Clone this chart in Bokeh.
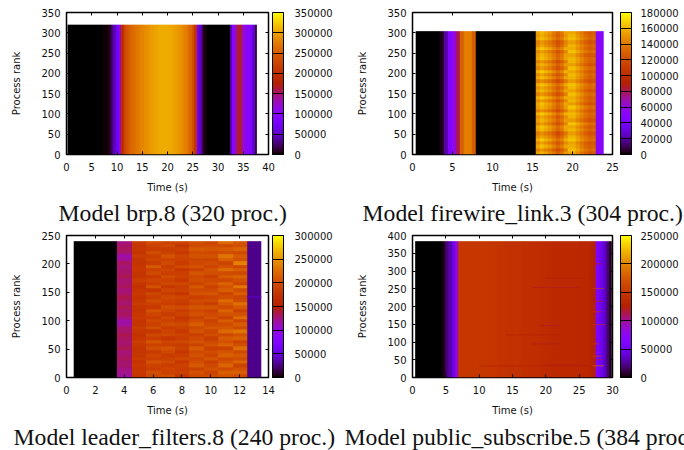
from bokeh.plotting import figure
from bokeh.layouts import column, row
from bokeh.models import (ColorBar, FixedTicker, LinearAxis, LinearColorMapper,
                          PrintfTickFormatter, Range1d, ColumnDataSource, Title)
from bokeh.embed import file_html
from bokeh.resources import INLINE
import numpy as np
import math

# --- values, in thousands ---
BRP_T0 = 0.2
BRP_COLS = [0,0,0,0,0,0,0,0,0,0,0.3,0.5,0.8,1,1.5,2.5,5,22,45,70,95,190,222,240,252,260,266,272,277,281,
            285,289,293,297,300,303,305,306,306,305,304,302,299,295,290,284,278,270,258,240,205,
            70,50,15,3,0.5,0,0,0,0,0,0,0,0.3,40,95,130,165,165,125,100,95,85,55,15]

FIRE_T0 = 0.4
FIRE_COLS = [0,0,0,0,0,0.3,3,20,45,55,80,130,142,142,128,0,0,0,0,0,0,0,0,0,0,0,0,0,0,0,
             150,158,152,146,138,128,136,150,158,158,150,142,134,128,130,52,52]
FIRE_SHIFT_A = [2,-8,6,-4,8,-2,-10,4,7,-6,3,-3,9,-9,2,6,-5,8,-7,4,-2,7,-10,5,-4,9,-6,2,-8,6,3,-5,8,-3,-7,5,0,4]
FIRE_SHIFT_B = [-3,5,0,-4,6,2,-5,3,-2,7,-6,1,4,-3,6,-5,2,-1,5,-4,3,6,-6,1,4,-2,5,-5,2,3,-4,6,-1,2,-5,4,1,-2]

LEADER_T0 = 0.5
LEADER_BLACK = [0,0,0]
LEADER_C4  = [118,122,125,130,128,133,130,126,134,130,128,132,135,130,128,118,116,126,132,130,
              134,128,131,135,129,127,133,130,128,134,131,129,126,132,120,117,128,132,130,126]
LEADER_C5  = [176,180,178,182,176,184,180,178,176,182,186,178,174,180,184,178,176,182,180,176,
              178,184,180,176,182,178,174,180,186,178,176,182,180,176,178,184,176,180,178,182]
LEADER_C6  = [196,200,186,192,204,188,194,182,200,190,208,186,196,180,202,190,198,184,194,206,
              182,190,200,186,196,178,204,188,194,182,198,190,210,184,194,188,200,186,192,198]
LEADER_C7  = [200,190,194,186,198,192,184,196,204,188,194,180,198,192,186,200,190,196,184,194,
              202,188,192,198,186,194,180,196,190,200,188,194,186,198,192,204,190,186,196,192]
LEADER_C8  = [178,188,184,192,180,196,188,178,190,184,198,186,192,182,190,196,184,178,192,186,
              198,182,188,194,178,190,186,196,182,192,188,180,198,184,190,194,182,188,178,192]
LEADER_C9  = [196,204,190,210,202,194,206,198,212,192,204,198,188,206,196,214,200,190,204,196,
              208,194,200,188,206,198,210,192,202,196,208,190,204,198,194,206,200,210,196,202]
LEADER_C10 = [198,192,204,196,188,208,194,200,190,206,198,186,202,194,208,196,190,204,198,192,
              206,186,200,194,208,198,190,204,196,188,202,206,194,200,192,206,196,208,200,194]
LEADER_C11 = [204,214,198,220,206,196,216,208,192,218,204,212,196,222,208,200,214,192,206,218,
              198,210,224,202,192,214,206,220,196,212,200,226,204,194,216,230,202,210,196,222]
LEADER_C12 = [196,214,204,192,220,200,210,196,226,202,192,216,206,230,198,212,194,224,204,190,
              210,228,200,196,214,202,232,194,206,220,198,214,196,238,204,212,198,218,202,208]
LEADER_C13 = [27] * 40

PUB_T0 = 0.4
PUB_COLS = [0,0,0,0,0,0,0.3,0.6,4,20,30,50,90,
            150,150,150,150,150,150,150,150,150,
            148,148,147,146,146,145,145,144,144,
            143,142,142,141,140,140,139,138,138,137,136,136,
            135,135,135,135,135,135,134,134,133,130,122,
            60,48,38,22,5]

STRIPE_LEADER = dict(rank=[142], t0=[12.5], t1=[13.5], v=[42])
STRIPE_PUB = dict(
    rank=[33, 33, 50, 60, 95, 95, 146, 150, 185, 215, 250, 253, 280, 320, 35, 120],
    t0=[27.0, 10.0, 27.0, 27.0, 18.0, 27.0, 19.0, 27.0, 27.0, 27.0, 27.0, 18.0, 20.0, 27.0, 20.0, 14.0],
    t1=[28.7, 27.0, 28.5, 28.3, 22.0, 28.0, 22.0, 29.0, 28.3, 28.5, 28.8, 25.0, 26.0, 28.3, 26.0, 22.0],
    v=[180, 125, 120, 160, 120, 150, 120, 150, 150, 125, 165, 120, 125, 130, 122, 126])

X_TICKS_A = [0, 5, 10, 15, 20, 25, 30, 35, 40]
X_TICKS_B = [0, 5, 10, 15, 20, 25]
X_TICKS_C = [0, 2, 4, 6, 8, 10, 12, 14]
X_TICKS_D = [0, 5, 10, 15, 20, 25, 30]
Y_TICKS_A = [0, 50, 100, 150, 200, 250, 300, 350]
Y_TICKS_C = [0, 50, 100, 150, 200, 250]
Y_TICKS_D = [0, 50, 100, 150, 200, 250, 300, 350, 400]
CB_TICKS_A = [0, 50000, 100000, 150000, 200000, 250000, 300000, 350000]
CB_TICKS_B = [0, 20000, 40000, 60000, 80000, 100000, 120000, 140000, 160000, 180000]
CB_TICKS_C = [0, 50000, 100000, 150000, 200000, 250000, 300000]
CB_TICKS_D = [0, 50000, 100000, 150000, 200000, 250000]

TITLES = ["Model brp.8 (320 proc.)", "Model firewire_link.3 (304 proc.)",
          "Model leader_filters.8 (240 proc.)", "Model public_subscribe.5 (384 proc.)"]

# gnuplot rgbformulae 7,5,15
def pal():
    out = []
    for i in range(256):
        x = i / 255
        r = math.sqrt(x); g = x ** 3; b = max(0.0, math.sin(2 * math.pi * x))
        out.append("#%02x%02x%02x" % (round(r * 255), round(g * 255), round(b * 255)))
    return out
PALETTE = pal()
FONT = "DejaVu Sans"


def panel(matrix, t0, dt, ranks, xticks, yticks, cbticks, title, title_off, title_standoff,
          fw, borders, cb_off, cb_standoff, stripes=None):
    left, right, top, bottom = borders
    xmax, ymax = xticks[-1], yticks[-1]
    p = figure(frame_width=fw, frame_height=142, min_border_left=left, min_border_right=right,
               min_border_top=top, min_border_bottom=bottom,
               x_range=Range1d(0, xmax), y_range=Range1d(0, ymax),
               output_backend="svg", toolbar_location=None, tools="",
               background_fill_color="white", border_fill_color="white")
    p.grid.visible = False
    mapper = LinearColorMapper(palette=PALETTE, low=0, high=cbticks[-1])
    arr = np.array(matrix, dtype=float) * 1000.0
    p.image(image=[arr], x=t0, y=0, dw=arr.shape[1] * dt, dh=ranks, color_mapper=mapper)
    if stripes:
        src = ColumnDataSource(dict(
            left=stripes["t0"], right=stripes["t1"],
            bottom=[r - 1 for r in stripes["rank"]], top=[r + 1 for r in stripes["rank"]],
            v=[x * 1000 for x in stripes["v"]]))
        p.quad(left="left", right="right", bottom="bottom", top="top", source=src,
               fill_color={"field": "v", "transform": mapper}, line_color=None)

    def style(ax, ticks, labelled):
        ax.ticker = FixedTicker(ticks=ticks)
        ax.axis_line_color = None
        ax.major_tick_in = 3
        ax.major_tick_out = 0
        ax.minor_tick_line_color = None
        ax.major_tick_line_color = "black"
        ax.major_label_text_font = FONT
        ax.major_label_text_font_size = "10px"
        ax.major_label_text_color = "#111111"
        ax.axis_label_text_font = FONT
        ax.axis_label_text_font_size = "10px"
        ax.axis_label_text_font_style = "normal"
        ax.axis_label_text_color = "#111111"
        if not labelled:
            ax.major_label_overrides = {t: "" for t in ticks}
            ax.major_label_standoff = 0

    style(p.xaxis[0], xticks, True)
    style(p.yaxis[0], yticks, True)
    p.xaxis[0].axis_label = "Time (s)"
    p.yaxis[0].axis_label = "Process rank"
    p.xaxis[0].major_label_standoff = 8
    p.yaxis[0].major_label_standoff = 6
    p.xaxis[0].axis_label_standoff = 8
    p.yaxis[0].axis_label_standoff = 16
    above = LinearAxis(); style(above, xticks, False); p.add_layout(above, "above")
    rt = LinearAxis(); style(rt, yticks, False); p.add_layout(rt, "right")

    p.outline_line_color = "black"
    p.outline_line_width = 1.5
    p.outline_line_alpha = 1

    cb = ColorBar(color_mapper=mapper, ticker=FixedTicker(ticks=cbticks),
                  formatter=PrintfTickFormatter(format="%d"),
                  location=(fw + cb_off, 0), width=11, height=142, padding=0, margin=0,
                  major_tick_in=11, major_tick_out=0, major_tick_line_color="black",
                  minor_tick_line_color=None, bar_line_color="black",
                  major_label_text_font=FONT, major_label_text_font_size="10px",
                  major_label_text_color="#111111", label_standoff=cb_standoff)
    p.add_layout(cb, "center")

    p.add_layout(Title(text=title, align="left", offset=title_off, standoff=title_standoff,
                       text_font="Liberation Serif", text_font_size="23.7px",
                       text_font_style="normal", text_color="#111111"), "below")
    return p


fire_matrix = []
for a, b in zip(FIRE_SHIFT_A, FIRE_SHIFT_B):
    rowv = list(FIRE_COLS)
    for i in range(30, 38):
        rowv[i] += a
    for i in range(38, 45):
        rowv[i] += b
    fire_matrix.append(rowv)

leader_matrix = [LEADER_BLACK + [c4, c5, c6, c7, c8, c9, c10, c11, c12, c13]
                 for c4, c5, c6, c7, c8, c9, c10, c11, c12, c13 in
                 zip(LEADER_C4, LEADER_C5, LEADER_C6, LEADER_C7, LEADER_C8,
                     LEADER_C9, LEADER_C10, LEADER_C11, LEADER_C12, LEADER_C13)]

p1 = panel([BRP_COLS], BRP_T0, 0.5, 320, X_TICKS_A, Y_TICKS_A, CB_TICKS_A, TITLES[0], -8, 5,
           202, (66, 74, 12, 76), 4, 11)
p2 = panel(fire_matrix, FIRE_T0, 0.5, 304, X_TICKS_B, Y_TICKS_A, CB_TICKS_B, TITLES[1], -50, 5,
           200, (70, 72, 12, 76), 8, 9)
p3 = panel(leader_matrix, LEADER_T0, 1.0, 240, X_TICKS_C, Y_TICKS_C, CB_TICKS_C, TITLES[2], -53, 6,
           202, (66, 74, 5, 73), 4, 11, STRIPE_LEADER)
p4 = panel([PUB_COLS], PUB_T0, 0.5, 384, X_TICKS_D, Y_TICKS_D, CB_TICKS_D, TITLES[3], -68, 6,
           200, (70, 72, 5, 73), 8, 9, STRIPE_PUB)

layout = column(row(p1, p2, spacing=0), row(p3, p4, spacing=0), spacing=0)
open("out.html", "w").write(file_html(layout, INLINE))
